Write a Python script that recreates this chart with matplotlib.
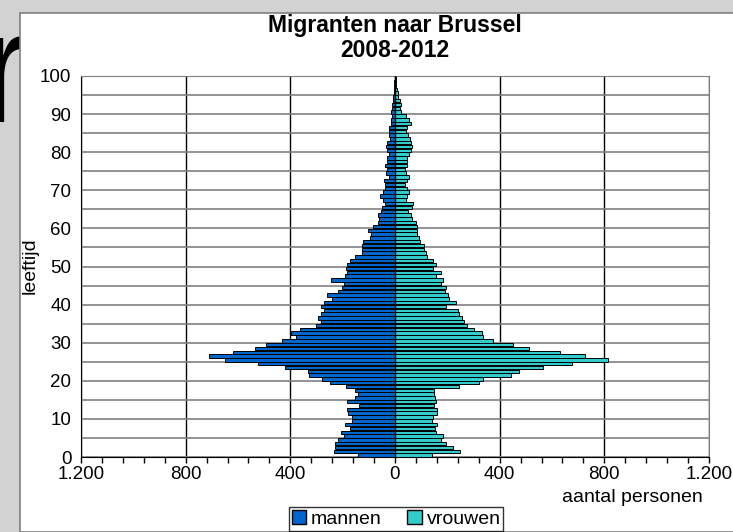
import numpy as np
import matplotlib
matplotlib.use('Agg')
import matplotlib.pyplot as plt
from matplotlib.patches import Patch, Rectangle
from matplotlib.ticker import MultipleLocator, FuncFormatter

plt.rcParams['font.family'] = ['Liberation Sans', 'DejaVu Sans']

# Leeftijden 0-100 en aantallen migranten (mannen / vrouwen)
ages = list(range(0, 101))
mannen = [143, 233, 228, 231, 217, 194, 206, 172, 192, 164,
          163, 180, 185, 139, 182, 154, 141, 153, 187, 247,
          278, 329, 334, 422, 524, 650, 711, 619, 534, 492,
          433, 380, 396, 362, 303, 282, 294, 282, 271, 283,
          273, 241, 260, 218, 203, 195, 243, 192, 182, 187,
          184, 171, 154, 125, 125, 126, 121, 97, 92, 104,
          83, 66, 60, 65, 52, 50, 38, 45, 57, 46,
          37, 37, 41, 24, 36, 29, 37, 32, 29, 24,
          32, 34, 29, 20, 24, 22, 23, 15, 17, 13,
          15, 11, 10, 8, 6, 4, 4, 3, 2, 1, 1]
vrouwen = [140, 250, 220, 194, 175, 182, 155, 152, 159, 143,
           147, 159, 159, 149, 157, 153, 150, 149, 245, 321,
           335, 444, 472, 567, 678, 814, 726, 631, 512, 451,
           376, 338, 334, 302, 274, 264, 256, 245, 240, 196,
           232, 205, 201, 192, 194, 176, 185, 158, 177, 147,
           155, 144, 124, 120, 110, 111, 96, 93, 83, 83,
           84, 82, 65, 60, 51, 66, 69, 43, 47, 54,
           46, 39, 46, 55, 43, 40, 47, 45, 47, 54,
           60, 65, 60, 57, 51, 42, 47, 62, 52, 42,
           23, 19, 23, 18, 13, 10, 9, 5, 4, 2, 1]

blue = '#0066cc'
teal = '#33cccc'

fig = plt.figure(figsize=(7.33, 5.32), dpi=100)
fig.patch.set_facecolor('#d2d2d2')

# achtergrond van de dia: stukje letter en wit kader
fig.text(-0.03, 0.77, 'r', fontsize=115, color='black', zorder=-3)
fig.patches.append(Rectangle((20 / 733, 0), 1, 1 - 13 / 532,
                             transform=fig.transFigure, facecolor='white',
                             edgecolor='#808080', linewidth=1.2, zorder=-1))

ax = fig.add_axes([81 / 733, 1 - 457 / 532, 628 / 733, 381 / 532])
ax.set_facecolor('white')

y = np.array(ages) + 0.5
ax.barh(y, -np.array(mannen), height=0.9, color=blue, edgecolor='black', linewidth=0.7, label='mannen')
ax.barh(y, vrouwen, height=0.9, color=teal, edgecolor='black', linewidth=0.7, label='vrouwen')
ax.axvline(0, color='black', linewidth=1, zorder=3)

ax.set_xlim(-1200, 1200)
ax.set_ylim(0, 100)
ax.xaxis.set_major_locator(MultipleLocator(400))
ax.xaxis.set_minor_locator(MultipleLocator(80))
ax.xaxis.set_major_formatter(FuncFormatter(lambda v, p: f'{abs(int(v)):,}'.replace(',', '.')))
ax.yaxis.set_major_locator(MultipleLocator(10))
ax.yaxis.set_minor_locator(MultipleLocator(5))

ax.set_axisbelow(True)
ax.grid(axis='x', which='major', color='black', linewidth=1)
ax.grid(axis='y', which='both', color='#808080', linewidth=1.2)

ax.tick_params(axis='x', which='both', direction='out', length=4, width=1, labelsize=13.5, pad=2.5)
ax.tick_params(axis='y', which='both', length=0, labelsize=13.5, pad=7)

for s in ['top', 'right']:
    ax.spines[s].set_color('#808080')
for s in ['left', 'bottom']:
    ax.spines[s].set_color('black')

fig.text(395 / 733, 1 - 38 / 532, 'Migranten naar Brussel\n2008-2012', ha='center', va='center',
         fontsize=16.5, fontweight='bold', linespacing=1.15)
fig.text(30 / 733, 1 - 266 / 532, 'leeftijd', rotation=90, ha='center', va='center', fontsize=14)
fig.text(703 / 733, 1 - 498 / 532, 'aantal personen', ha='right', va='center', fontsize=14)

handles = [Patch(facecolor=blue, edgecolor='black'), Patch(facecolor=teal, edgecolor='black')]
leg = fig.legend(handles, ['mannen', 'vrouwen'], loc='center', bbox_to_anchor=(396 / 733, 1 - 519 / 532),
                 ncol=2, fontsize=14, frameon=True, fancybox=False, edgecolor='black',
                 handlelength=0.75, handleheight=0.75, handletextpad=0.25, columnspacing=1.3,
                 borderpad=0.15, borderaxespad=0)
leg.get_frame().set_linewidth(1)

fig.savefig('out.png', dpi=100, facecolor=fig.get_facecolor())
